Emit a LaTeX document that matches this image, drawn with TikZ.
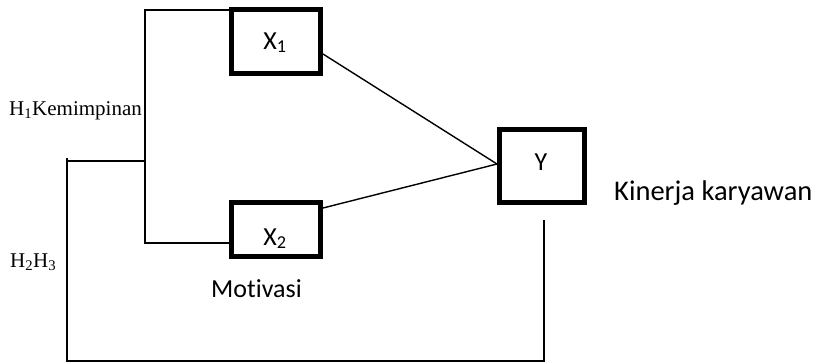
\documentclass[tikz,border=0pt]{standalone}
\usepackage{fontspec}
\setmainfont[Ligatures=NoCommon]{Carlito}
\newfontfamily\timesfont{Liberation Serif}
\begin{document}
\begin{tikzpicture}[x=1pt,y=-1pt,
  varbox/.style={draw=black,line width=5pt,minimum width=89pt,inner sep=0pt,
    font=\fontsize{26}{30}\selectfont},
  conn/.style={draw=black,line width=1.4pt},
  lbl/.style={inner sep=0pt,font=\fontsize{26}{30}\selectfont},
  hlbl/.style={inner sep=0pt,font=\timesfont\fontsize{21}{25}\selectfont}]
\useasboundingbox (0,0) rectangle (822,364);
\fill[white] (0,0) rectangle (822,364);
% boxes
\node[varbox,minimum height=64pt] (x1) at (276,41.5) {};
\node[varbox,minimum height=54pt] (x2) at (276,229.5) {};
\node[varbox,minimum width=85pt,minimum height=73pt] (y) at (542,166) {};
% box labels
\node[lbl,anchor=base] (x1t) at (275,49) {X\textsubscript{1}};
\node[lbl,anchor=base] (x2t) at (275,245) {X\textsubscript{2}};
\node[lbl,anchor=base] (yt) at (541,170) {Y};
% junction coordinates
\coordinate (ja) at (145,10);
\coordinate (jb) at (145,243);
\coordinate (jc) at (145,161);
\coordinate (jd) at (67,158);
\coordinate (je) at (67,361);
\coordinate (jf) at (544,361);
\coordinate (jg) at (544,220);
\coordinate (meet) at (497,164);
% connectors
\draw[conn] (x1.west |- ja) -- (ja) -- (jb) -- (x2.west |- jb);
\draw[conn] (jc) -- (jd |- jc);
\draw[conn] (jd) -- (je) -- (jf) -- (jg);
\draw[conn] ([yshift=-12.5pt]x1.east) -- (meet);
\draw[conn] ([yshift=21.5pt]x2.east) -- (meet);
% texts
\node[hlbl,anchor=base west] (h1) at (9,115) {H\textsubscript{1}Kemimpinan};
\node[hlbl,anchor=base west] (h2) at (10,267) {H\textsubscript{2}H\textsubscript{3}};
\node[lbl,anchor=base] (mot) at (256.5,297) {Motivasi};
\node[lbl,anchor=base west,font=\fontsize{28.5}{32}\selectfont] (kin) at (614,200) {Kinerja karyawan};
\end{tikzpicture}
\end{document}
